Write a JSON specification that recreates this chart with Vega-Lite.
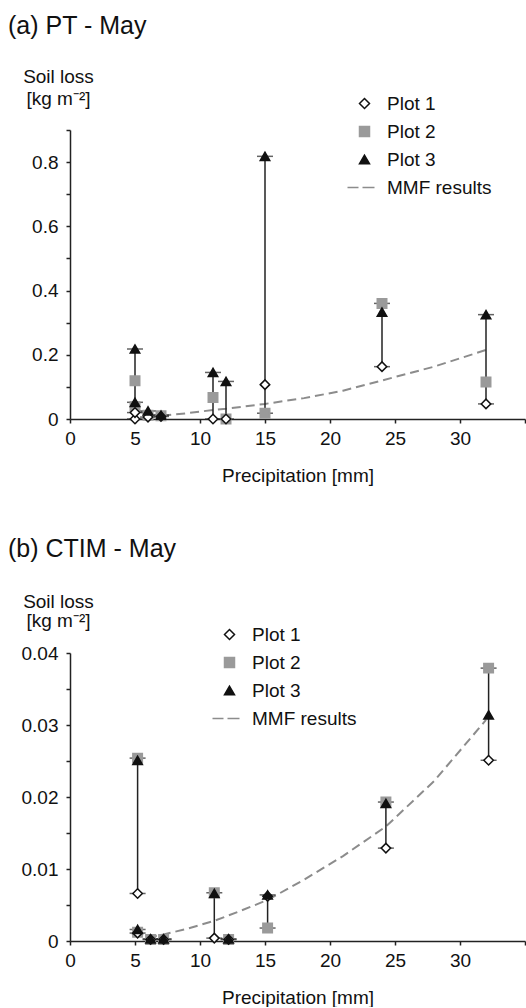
{
  "$schema": "https://vega.github.io/schema/vega-lite/v6.json",
  "padding": {"left": 8, "top": 14, "right": 0, "bottom": 0},
  "config": {
    "font": "Liberation Sans",
    "view": {"stroke": null},
    "axis": {
      "grid": false,
      "domainColor": "#222222",
      "domainWidth": 1.5,
      "tickColor": "#222222",
      "tickWidth": 1.5,
      "tickSize": 4,
      "labelFontSize": 19,
      "labelColor": "#111111",
      "labelFlush": false,
      "labelOverlap": false,
      "titleFontSize": 19,
      "titleFontWeight": "normal",
      "titleColor": "#111111"
    },
    "axisX": {"labelPadding": 6, "titlePadding": 18},
    "axisY": {"labelPadding": 8},
    "legend": {
      "labelFontSize": 19,
      "labelColor": "#111111",
      "symbolSize": 100,
      "symbolStrokeWidth": 1.5,
      "rowPadding": 8,
      "labelOffset": 13,
      "labelLimit": 300
    },
    "title": {"fontSize": 25, "fontWeight": "normal", "color": "#111111", "anchor": "start", "frame": "group"}
  },
  "datasets": {
    "pts": [
      {"p": "a", "ev": "a1", "x": 5, "plot": "Plot 2", "y": 0.119},
      {"p": "a", "ev": "a2", "x": 5, "plot": "Plot 2", "y": 0.038},
      {"p": "a", "ev": "a3", "x": 6, "plot": "Plot 2", "y": 0.012},
      {"p": "a", "ev": "a4", "x": 7, "plot": "Plot 2", "y": 0.01},
      {"p": "a", "ev": "a5", "x": 11, "plot": "Plot 2", "y": 0.067},
      {"p": "a", "ev": "a6", "x": 12, "plot": "Plot 2", "y": 0.0},
      {"p": "a", "ev": "a7", "x": 15, "plot": "Plot 2", "y": 0.018},
      {"p": "a", "ev": "a8", "x": 24, "plot": "Plot 2", "y": 0.36},
      {"p": "a", "ev": "a9", "x": 32, "plot": "Plot 2", "y": 0.115},
      {"p": "a", "ev": "a1", "x": 5, "plot": "Plot 1", "y": 0.0},
      {"p": "a", "ev": "a2", "x": 5, "plot": "Plot 1", "y": 0.02},
      {"p": "a", "ev": "a3", "x": 6, "plot": "Plot 1", "y": 0.006},
      {"p": "a", "ev": "a4", "x": 7, "plot": "Plot 1", "y": 0.008},
      {"p": "a", "ev": "a5", "x": 11, "plot": "Plot 1", "y": 0.0},
      {"p": "a", "ev": "a6", "x": 12, "plot": "Plot 1", "y": 0.0},
      {"p": "a", "ev": "a7", "x": 15, "plot": "Plot 1", "y": 0.107},
      {"p": "a", "ev": "a8", "x": 24, "plot": "Plot 1", "y": 0.163},
      {"p": "a", "ev": "a9", "x": 32, "plot": "Plot 1", "y": 0.047},
      {"p": "a", "ev": "a1", "x": 5, "plot": "Plot 3", "y": 0.218},
      {"p": "a", "ev": "a2", "x": 5, "plot": "Plot 3", "y": 0.052},
      {"p": "a", "ev": "a3", "x": 6, "plot": "Plot 3", "y": 0.025},
      {"p": "a", "ev": "a4", "x": 7, "plot": "Plot 3", "y": 0.012},
      {"p": "a", "ev": "a5", "x": 11, "plot": "Plot 3", "y": 0.145},
      {"p": "a", "ev": "a6", "x": 12, "plot": "Plot 3", "y": 0.117},
      {"p": "a", "ev": "a7", "x": 15, "plot": "Plot 3", "y": 0.818},
      {"p": "a", "ev": "a8", "x": 24, "plot": "Plot 3", "y": 0.333},
      {"p": "a", "ev": "a9", "x": 32, "plot": "Plot 3", "y": 0.325},
      {"p": "b", "ev": "b1", "x": 5.2, "plot": "Plot 2", "y": 0.0254},
      {"p": "b", "ev": "b2", "x": 5.2, "plot": "Plot 2", "y": 0.0012},
      {"p": "b", "ev": "b3", "x": 6.2, "plot": "Plot 2", "y": 0.0002},
      {"p": "b", "ev": "b4", "x": 7.2, "plot": "Plot 2", "y": 0.0002},
      {"p": "b", "ev": "b5", "x": 11.1, "plot": "Plot 2", "y": 0.0067},
      {"p": "b", "ev": "b6", "x": 12.2, "plot": "Plot 2", "y": 0.0002},
      {"p": "b", "ev": "b7", "x": 15.2, "plot": "Plot 2", "y": 0.0018},
      {"p": "b", "ev": "b8", "x": 24.3, "plot": "Plot 2", "y": 0.0193},
      {"p": "b", "ev": "b9", "x": 32.2, "plot": "Plot 2", "y": 0.0379},
      {"p": "b", "ev": "b1", "x": 5.2, "plot": "Plot 1", "y": 0.0066},
      {"p": "b", "ev": "b2", "x": 5.2, "plot": "Plot 1", "y": 0.0011},
      {"p": "b", "ev": "b3", "x": 6.2, "plot": "Plot 1", "y": 0.0002},
      {"p": "b", "ev": "b4", "x": 7.2, "plot": "Plot 1", "y": 0.0002},
      {"p": "b", "ev": "b5", "x": 11.1, "plot": "Plot 1", "y": 0.0004},
      {"p": "b", "ev": "b6", "x": 12.2, "plot": "Plot 1", "y": 0.0002},
      {"p": "b", "ev": "b7", "x": 15.2, "plot": "Plot 1", "y": 0.0062},
      {"p": "b", "ev": "b8", "x": 24.3, "plot": "Plot 1", "y": 0.0129},
      {"p": "b", "ev": "b9", "x": 32.2, "plot": "Plot 1", "y": 0.0251},
      {"p": "b", "ev": "b1", "x": 5.2, "plot": "Plot 3", "y": 0.0251},
      {"p": "b", "ev": "b2", "x": 5.2, "plot": "Plot 3", "y": 0.0016},
      {"p": "b", "ev": "b3", "x": 6.2, "plot": "Plot 3", "y": 0.0003},
      {"p": "b", "ev": "b4", "x": 7.2, "plot": "Plot 3", "y": 0.0003},
      {"p": "b", "ev": "b5", "x": 11.1, "plot": "Plot 3", "y": 0.0066},
      {"p": "b", "ev": "b6", "x": 12.2, "plot": "Plot 3", "y": 0.0003},
      {"p": "b", "ev": "b7", "x": 15.2, "plot": "Plot 3", "y": 0.0064},
      {"p": "b", "ev": "b8", "x": 24.3, "plot": "Plot 3", "y": 0.0191},
      {"p": "b", "ev": "b9", "x": 32.2, "plot": "Plot 3", "y": 0.0314}
    ],
    "mmf": [
      {"p": "a", "x": 5, "y": 0.028},
      {"p": "a", "x": 6, "y": 0.015},
      {"p": "a", "x": 7, "y": 0.01},
      {"p": "a", "x": 9, "y": 0.018},
      {"p": "a", "x": 11, "y": 0.028},
      {"p": "a", "x": 12, "y": 0.032},
      {"p": "a", "x": 15, "y": 0.047},
      {"p": "a", "x": 18, "y": 0.065},
      {"p": "a", "x": 21, "y": 0.088},
      {"p": "a", "x": 24, "y": 0.12},
      {"p": "a", "x": 28, "y": 0.163},
      {"p": "a", "x": 32, "y": 0.215},
      {"p": "b", "x": 6, "y": 0.0005},
      {"p": "b", "x": 7.2, "y": 0.0009},
      {"p": "b", "x": 9, "y": 0.0017},
      {"p": "b", "x": 11.1, "y": 0.0028},
      {"p": "b", "x": 13, "y": 0.0041},
      {"p": "b", "x": 15.2, "y": 0.0057},
      {"p": "b", "x": 18, "y": 0.0085},
      {"p": "b", "x": 21, "y": 0.0118},
      {"p": "b", "x": 24.3, "y": 0.0159},
      {"p": "b", "x": 28, "y": 0.0222},
      {"p": "b", "x": 32, "y": 0.0307}
    ]
  },
  "spacing": 52,
  "resolve": {
    "scale": {"shape": "independent", "fill": "independent", "stroke": "independent"},
    "legend": {"shape": "independent", "fill": "independent", "stroke": "independent"}
  },
  "vconcat": [
    {
      "width": 455,
      "height": 289,
      "title": {"text": "(a) PT - May", "dx": -62, "offset": 28},
      "data": {"name": "pts"},
      "transform": [{"filter": "datum.p == 'a'"}],
      "encoding": {
        "x": {"field": "x", "type": "quantitative", "scale": {"domain": [0, 35], "nice": false},
          "axis": {"title": "Precipitation [mm]", "values": [0, 5, 10, 15, 20, 25, 30, 35], "labelExpr": "datum.value == 35 ? '' : datum.label"}},
        "y": {"field": "y", "type": "quantitative", "scale": {"domain": [0, 0.9], "nice": false},
          "axis": {"title": ["Soil loss", "[kg m⁻²]"], "titleAngle": 0, "titleAlign": "center", "titleBaseline": "alphabetic", "titleX": -12, "titleY": -48, "titleLineHeight": 22,
            "values": [0, 0.1, 0.2, 0.3, 0.4, 0.5, 0.6, 0.7, 0.8, 0.9],
            "labelExpr": "datum.value == 0 ? '0' : (round(datum.value * 10) % 2 == 0 ? format(datum.value, '.1f') : '')"}}
      },
      "layer": [
        {"data": {"name": "mmf"}, "transform": [{"filter": "datum.p == 'a'"}],
          "mark": {"type": "line", "color": "#8c8c8c", "strokeWidth": 2, "strokeDash": [9, 5]}},
        {"transform": [{"aggregate": [{"op": "min", "field": "y", "as": "lo"}, {"op": "max", "field": "y", "as": "hi"}], "groupby": ["ev", "x"]}],
          "layer": [
            {"mark": {"type": "rule", "color": "#222222", "strokeWidth": 1.5}, "encoding": {"y": {"field": "lo", "type": "quantitative"}, "y2": {"field": "hi"}}},
            {"mark": {"type": "tick", "orient": "horizontal", "color": "#222222", "size": 16, "thickness": 1.5}, "encoding": {"y": {"field": "lo", "type": "quantitative"}}},
            {"mark": {"type": "tick", "orient": "horizontal", "color": "#222222", "size": 16, "thickness": 1.5}, "encoding": {"y": {"field": "hi", "type": "quantitative"}}}
          ]},
        {"mark": {"type": "point", "size": 90, "strokeWidth": 1.5, "opacity": 1},
          "encoding": {
            "shape": {"field": "plot", "type": "nominal", "scale": {"domain": ["Plot 1", "Plot 2", "Plot 3", "MMF results"], "range": ["diamond", "square", "triangle-up", "M-3.4,0H-1.2M-0.4,0H2"]},
              "legend": {"title": null, "orient": "none", "legendX": 285, "legendY": -36}},
            "fill": {"field": "plot", "type": "nominal", "scale": {"domain": ["Plot 1", "Plot 2", "Plot 3", "MMF results"], "range": ["#ffffff", "#9a9a9a", "#111111", "#ffffff"]}},
            "stroke": {"field": "plot", "type": "nominal", "scale": {"domain": ["Plot 1", "Plot 2", "Plot 3", "MMF results"], "range": ["#111111", "#9a9a9a", "#111111", "#8c8c8c"]}}
          }}
      ]
    },
    {
      "width": 455,
      "height": 288,
      "title": {"text": "(b) CTIM - May", "dx": -62, "offset": 30},
      "data": {"name": "pts"},
      "transform": [{"filter": "datum.p == 'b'"}],
      "encoding": {
        "x": {"field": "x", "type": "quantitative", "scale": {"domain": [0, 35], "nice": false},
          "axis": {"title": "Precipitation [mm]", "values": [0, 5, 10, 15, 20, 25, 30, 35], "labelExpr": "datum.value == 35 ? '' : datum.label"}},
        "y": {"field": "y", "type": "quantitative", "scale": {"domain": [0, 0.04], "nice": false},
          "axis": {"title": ["Soil loss", "[kg m⁻²]"], "titleAngle": 0, "titleAlign": "center", "titleBaseline": "alphabetic", "titleX": -12, "titleY": -46, "titleLineHeight": 19,
            "values": [0, 0.005, 0.01, 0.015, 0.02, 0.025, 0.03, 0.035, 0.04],
            "labelExpr": "datum.value == 0 ? '0' : (round(datum.value * 1000) % 10 == 0 ? format(datum.value, '.2f') : '')"}}
      },
      "layer": [
        {"data": {"name": "mmf"}, "transform": [{"filter": "datum.p == 'b'"}],
          "mark": {"type": "line", "color": "#8c8c8c", "strokeWidth": 2, "strokeDash": [9, 5]}},
        {"transform": [{"aggregate": [{"op": "min", "field": "y", "as": "lo"}, {"op": "max", "field": "y", "as": "hi"}], "groupby": ["ev", "x"]}],
          "layer": [
            {"mark": {"type": "rule", "color": "#222222", "strokeWidth": 1.5}, "encoding": {"y": {"field": "lo", "type": "quantitative"}, "y2": {"field": "hi"}}},
            {"mark": {"type": "tick", "orient": "horizontal", "color": "#222222", "size": 16, "thickness": 1.5}, "encoding": {"y": {"field": "lo", "type": "quantitative"}}},
            {"mark": {"type": "tick", "orient": "horizontal", "color": "#222222", "size": 16, "thickness": 1.5}, "encoding": {"y": {"field": "hi", "type": "quantitative"}}}
          ]},
        {"mark": {"type": "point", "size": 90, "strokeWidth": 1.5, "opacity": 1},
          "encoding": {
            "shape": {"field": "plot", "type": "nominal", "scale": {"domain": ["Plot 1", "Plot 2", "Plot 3", "MMF results"], "range": ["diamond", "square", "triangle-up", "M-3.4,0H-1.2M-0.4,0H2"]},
              "legend": {"title": null, "orient": "none", "legendX": 150, "legendY": -28}},
            "fill": {"field": "plot", "type": "nominal", "scale": {"domain": ["Plot 1", "Plot 2", "Plot 3", "MMF results"], "range": ["#ffffff", "#9a9a9a", "#111111", "#ffffff"]}},
            "stroke": {"field": "plot", "type": "nominal", "scale": {"domain": ["Plot 1", "Plot 2", "Plot 3", "MMF results"], "range": ["#111111", "#9a9a9a", "#111111", "#8c8c8c"]}}
          }}
      ]
    }
  ]
}
